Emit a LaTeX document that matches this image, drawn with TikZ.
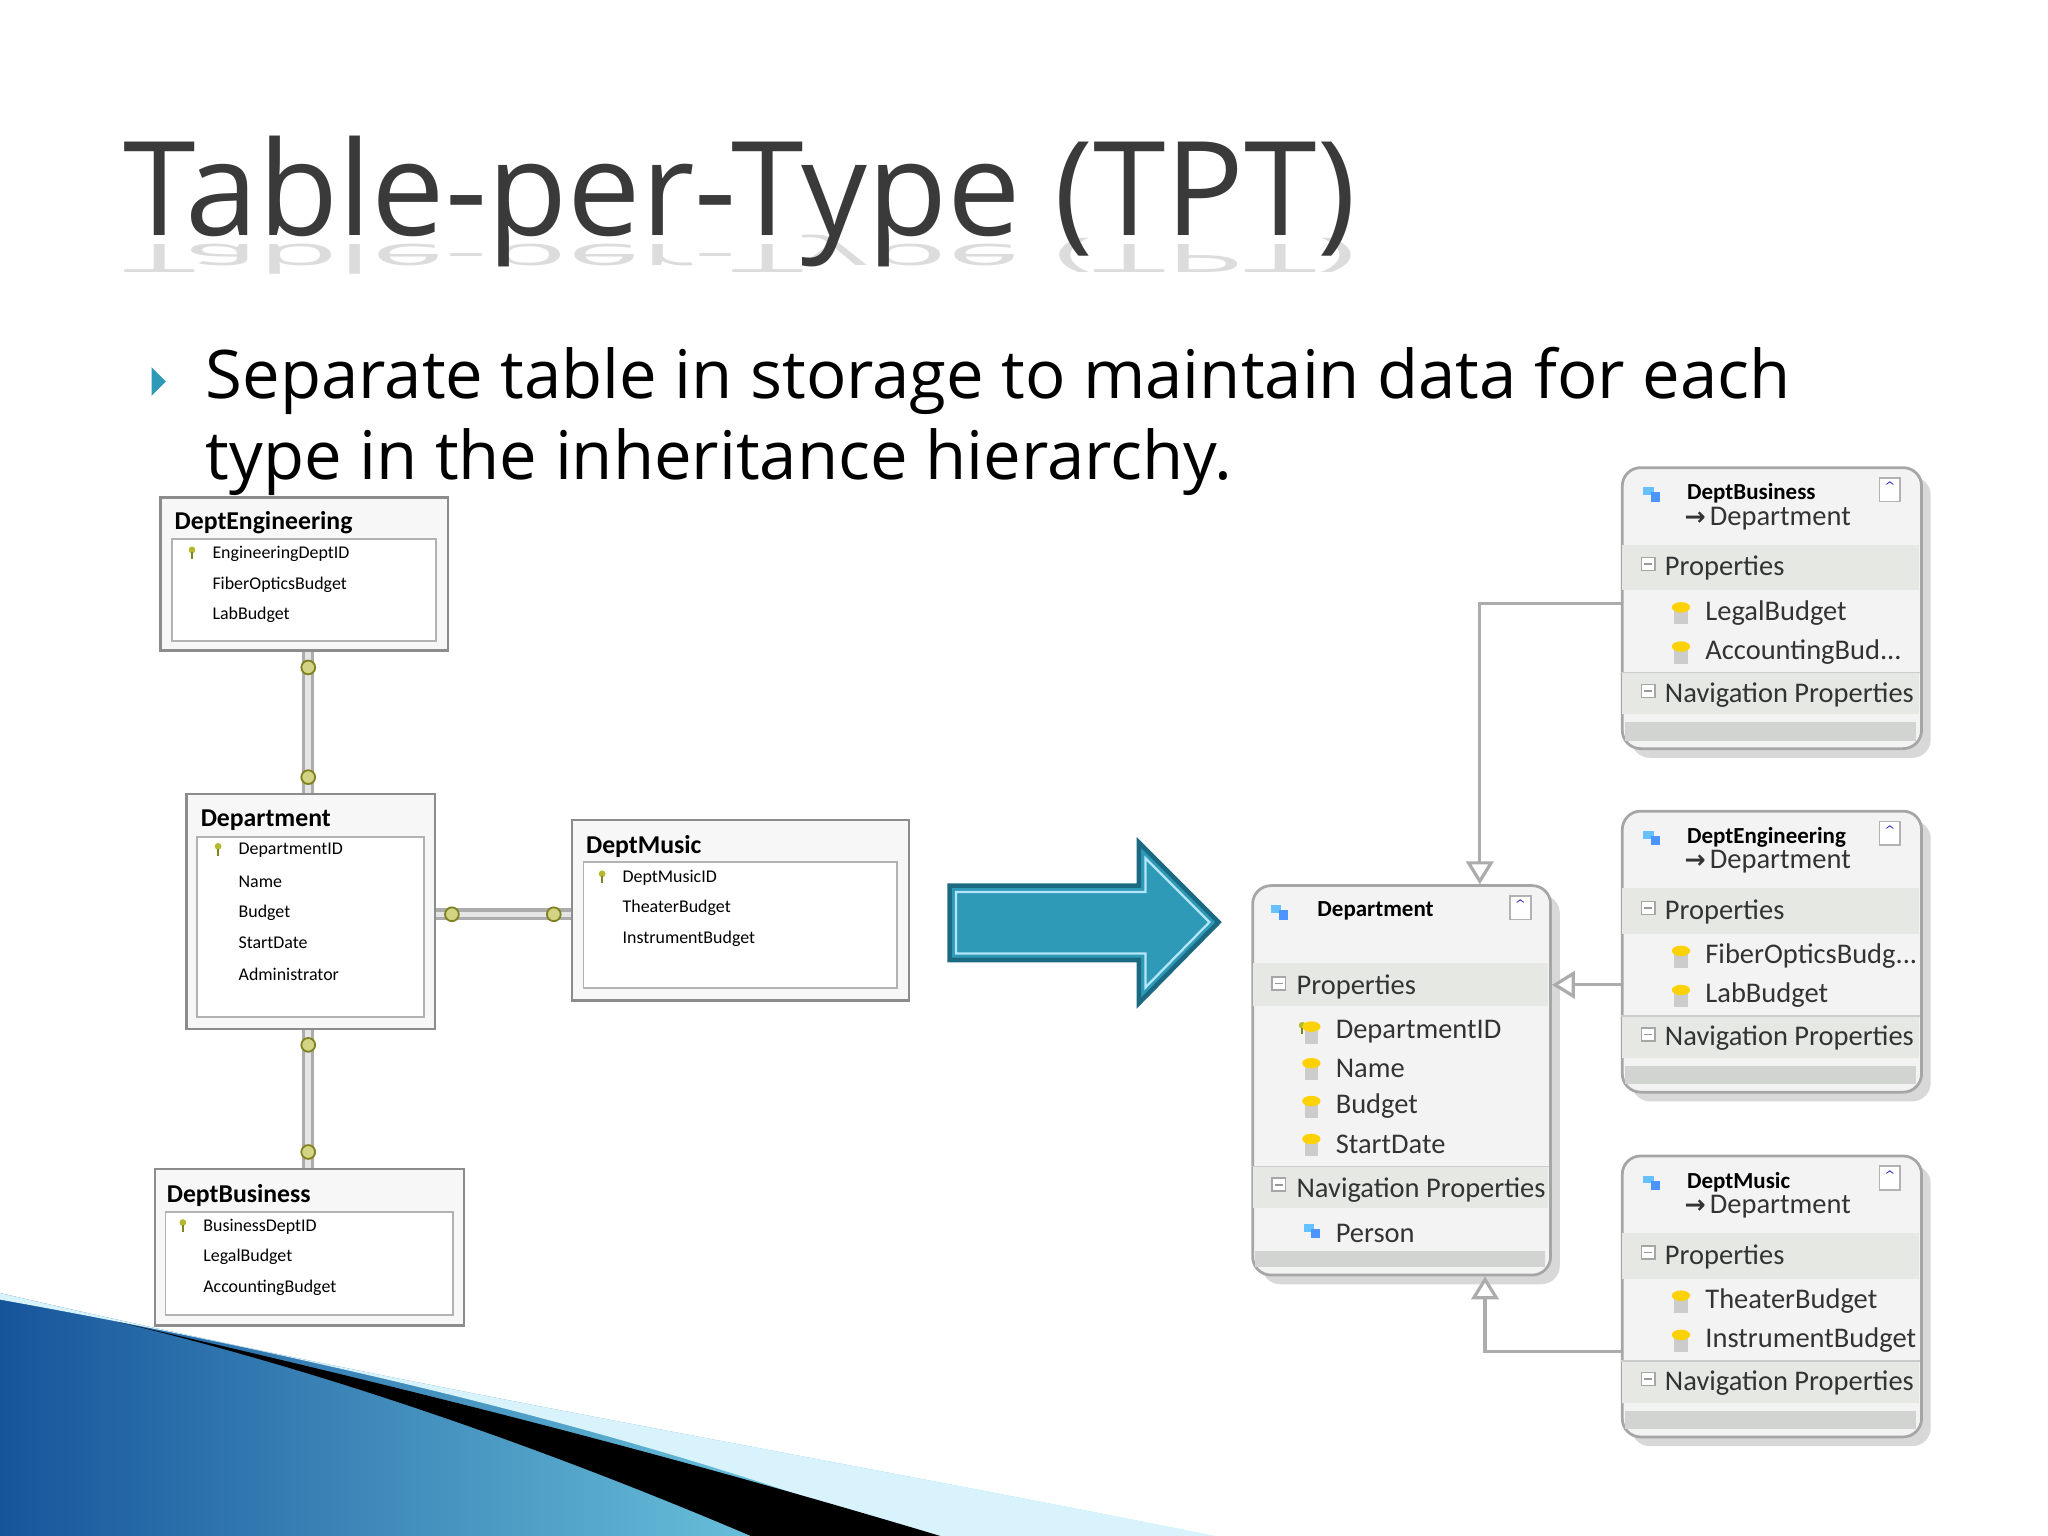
\documentclass[tikz,border=0pt]{standalone}
\usepackage{fontspec}
\setmainfont{Open Sans}
\newfontfamily\dfont{Carlito}
\usetikzlibrary{arrows.meta,shadows}
\definecolor{teal1}{HTML}{2E9AB8}
\definecolor{teal2}{HTML}{1C6A82}
\definecolor{titlegray}{HTML}{3A3A3A}
\definecolor{boxgray}{HTML}{8C8C8C}
\definecolor{bandgray}{HTML}{E6E8E4}
\definecolor{keyol}{HTML}{B5B830}
\tikzset{
 tbox/.style={draw=boxgray,line width=0.5pt,fill=gray!6,anchor=north west,inner sep=0pt},
 tpanel/.style={draw=gray!60,line width=0.4pt,fill=white,anchor=north west,inner sep=0pt},
 ttitle/.style={font=\dfont\bfseries\fontsize{5.6}{7}\selectfont,anchor=west,inner sep=0pt},
 trow/.style={font=\dfont\fontsize{3.9}{5}\selectfont,anchor=west,inner sep=0pt},
 ebox/.style={draw=gray!70,line width=0.6pt,rounded corners=4pt,fill=bandgray!50,anchor=north west,inner sep=0pt,drop shadow={shadow xshift=2pt,shadow yshift=-2pt,fill=gray!60}},
 etitle/.style={font=\dfont\bfseries\fontsize{5}{6}\selectfont,anchor=west,inner sep=0pt},
 etext/.style={font=\dfont\fontsize{6.2}{8}\selectfont,anchor=west,inner sep=0pt,text=black!80},
 conn/.style={draw=gray!65,line width=0.7pt},
 inh/.style={conn,-{Triangle[open,length=5pt,width=6pt,fill=white]}},
 keyend/.style={circle,draw=keyol!70!black,fill=keyol!60,minimum size=3pt,inner sep=0pt,line width=0.4pt},
}
\newcommand{\keyicon}[2]{\fill[keyol] (#1,#2) circle (2.6); \draw[keyol!70!black,line width=0.4pt] (#1,#2+2)--(#1,#2+7);}
\newcommand{\propicon}[2]{\fill[gray!40] (#1-7,#2-2) rectangle (#1+3,#2+9); \fill[yellow!70!orange] (#1-2,#2-4) ellipse (7 and 4);}
\newcommand{\eicon}[2]{\fill[blue!40!cyan!60] (#1-5,#2-4) rectangle (#1+3,#2+2); \fill[blue!60!cyan!70] (#1+1,#2) rectangle (#1+8,#2+7);}
\newcommand{\collapse}[2]{\draw[gray!60,fill=white,line width=0.4pt] (#1-8,#2-9) rectangle (#1+8,#2+9); \node[font=\fontsize{5}{5}\selectfont,text=blue!50!gray] at (#1,#2) {$\hat{}$};}
\newcommand{\minus}[2]{\draw[gray!70,fill=white,line width=0.3pt] (#1-5,#2-5) rectangle (#1+5,#2+5); \draw[gray!80,line width=0.4pt] (#1-3,#2)--(#1+3,#2);}
% child entity: name x y title item1 item2
\newcommand{\child}[6]{%
 \node[ebox,minimum width=2.29cm,minimum height=2.15cm] (#1) at (#2,#3) {};
 \fill[bandgray] (#2+1,#3+60) rectangle (#2+228,#3+95);
 \fill[bandgray] (#2+1,#3+158) rectangle (#2+228,#3+190);
 \fill[bandgray!70!gray!80] (#2+3,#3+196) rectangle (#2+226,#3+210);
 \draw[gray!40,line width=0.3pt] (#2,#3+158) -- (#2+229,#3+158);
 \eicon{#2+22}{#3+20}
 \collapse{#2+206}{#3+18}
 \node[etitle] at (#2+50,#3+21) {#4};
 \node[etext] at (#2+48,#3+40) {\fontspec{DejaVu Sans}\bfseries\fontsize{5.5}{6}\selectfont →\,\dfont\mdseries\fontsize{6.2}{8}\selectfont Department};
 \minus{#2+21}{#3+75}
 \node[etext] at (#2+33,#3+78) {Properties};
 \propicon{#2+48}{#3+112}
 \node[etext] at (#2+64,#3+112) {#5};
 \propicon{#2+48}{#3+142}
 \node[etext] at (#2+64,#3+142) {#6};
 \minus{#2+21}{#3+172}
 \node[etext] at (#2+33,#3+175) {Navigation Properties};
}
\begin{document}
\begin{tikzpicture}[x=0.01cm,y=-0.01cm]
\useasboundingbox (0,0) rectangle (1568,1176);
\fill[white] (0,0) rectangle (1568,1176);
% swoosh
\shade[left color=teal2!80!blue,right color=cyan!40] (0,990) .. controls (300,1060) and (600,1110) .. (930,1176) -- (0,1176) -- cycle;
\fill[cyan!15] (0,990) .. controls (300,1060) and (600,1110) .. (930,1176) -- (700,1176) .. controls (500,1100) and (250,1040) .. (0,995) -- cycle;
\fill[black] (90,1012) .. controls (300,1060) and (500,1110) .. (720,1176) -- (575,1176) .. controls (420,1110) and (250,1050) .. (90,1012) -- cycle;
% title
\node[anchor=base west,inner sep=0pt,text=titlegray!18,font=\fontsize{28.5}{34}\selectfont,yscale=-0.3] (refl) at (94,187) {Table-per-Type (TPT)};
\node[anchor=base west,inner sep=0pt,text=titlegray,font=\fontsize{28.5}{34}\selectfont] (title) at (94,180) {Table-per-Type (TPT)};
% bullet
\fill[teal1] (116,281) -- (127,292) -- (116,303) -- cycle;
\node[anchor=base west,inner sep=0pt,font=\fontsize{14.6}{17.8}\selectfont,text=black] (bul) at (157,305) {Separate table in storage to maintain data for each};
\node[anchor=base west,inner sep=0pt,font=\fontsize{14.6}{17.8}\selectfont,text=black] (bul2) at (157,367) {type in the inheritance hierarchy.};
% left tables
\node[tbox,minimum width=2.20cm,minimum height=1.17cm] (le) at (122,380) {};
\node[tpanel,minimum width=2.02cm,minimum height=0.78cm] (lep) at (131,412) {};
\node[ttitle] at (133,400) {DeptEngineering};
\keyicon{147}{421} \node[trow] at (162,424) {EngineeringDeptID};
\node[trow] at (162,448) {FiberOpticsBudget};
\node[trow] at (162,471) {LabBudget};

\node[tbox,minimum width=1.90cm,minimum height=1.80cm] (ld) at (142,607) {};
\node[tpanel,minimum width=1.74cm,minimum height=1.38cm] (ldp) at (150,640) {};
\node[ttitle] at (153,628) {Department};
\keyicon{167}{648} \node[trow] at (182,651) {DepartmentID};
\node[trow] at (182,675) {Name};
\node[trow] at (182,699) {Budget};
\node[trow] at (182,722) {StartDate};
\node[trow] at (182,746) {Administrator};

\node[tbox,minimum width=2.58cm,minimum height=1.38cm] (lm) at (437,627) {};
\node[tpanel,minimum width=2.40cm,minimum height=0.97cm] (lmp) at (446,659) {};
\node[ttitle] at (448,648) {DeptMusic};
\keyicon{461}{669} \node[trow] at (476,672) {DeptMusicID};
\node[trow] at (476,695) {TheaterBudget};
\node[trow] at (476,719) {InstrumentBudget};

\node[tbox,minimum width=2.36cm,minimum height=1.20cm] (lb) at (118,894) {};
\node[tpanel,minimum width=2.20cm,minimum height=0.79cm] (lbp) at (126,927) {};
\node[ttitle] at (127,915) {DeptBusiness};
\keyicon{140}{936} \node[trow] at (155,939) {BusinessDeptID};
\node[trow] at (155,962) {LegalBudget};
\node[trow] at (155,986) {AccountingBudget};
% left connectors
\coordinate (cx) at (236,0);
\draw[conn,double=gray!20,double distance=1.2pt] (cx |- le.south) -- (cx |- ld.north);
\draw[conn,double=gray!20,double distance=1.2pt] (cx |- ld.south) -- (cx |- lb.north);
\draw[conn,double=gray!20,double distance=1.2pt] (ld.east |- 0,700) -- (lm.west |- 0,700);
\node[keyend] at (236,511) {};
\node[keyend] at (236,595) {};
\node[keyend] at (236,800) {};
\node[keyend] at (236,882) {};
\node[keyend] at (346,700) {};
\node[keyend] at (424,700) {};
% big arrow
\draw[fill=teal1,draw=teal2,line width=1pt] (727,678) -- (872,678) -- (872,645) -- (933,706) -- (872,768) -- (872,735) -- (727,735) -- cycle;
\draw[cyan!30,line width=0.5pt] (732,683) -- (877,683) -- (877,657) -- (926,706) -- (877,756) -- (877,730) -- (732,730) -- cycle;
% right Department entity
\node[ebox,minimum width=2.28cm,minimum height=2.98cm] (rd) at (958,677) {};
\fill[bandgray] (959,737) rectangle (1185,770);
\fill[bandgray] (959,893) rectangle (1185,925);
\fill[bandgray!70!gray!80] (961,958) rectangle (1183,970);
\draw[gray!40,line width=0.3pt] (958,893) -- (1186,893);
\eicon{978}{697}
\collapse{1164}{695}
\node[etitle] at (1008,697) {Department};
\minus{979}{753}
\node[etext] at (992,756) {Properties};
\keyicon{997}{785} \propicon{1006}{790}
\node[etext] at (1022,790) {DepartmentID};
\propicon{1006}{818} \node[etext] at (1022,818) {Name};
\propicon{1006}{847} \node[etext] at (1022,847) {Budget};
\propicon{1006}{876} \node[etext] at (1022,876) {StartDate};
\minus{979}{907}
\node[etext] at (992,911) {Navigation Properties};
\eicon{1003}{941}
\node[etext] at (1022,944) {Person};
% children
\child{cb}{1241}{357}{DeptBusiness}{LegalBudget}{AccountingBud...}
\child{ce}{1241}{620}{DeptEngineering}{FiberOpticsBudg...}{LabBudget}
\child{cm}{1241}{884}{DeptMusic}{TheaterBudget}{InstrumentBudget}
% inheritance connectors
\coordinate (b1) at (1133,462);
\coordinate (m1) at (1137,1035);
\draw[inh] (cb.west |- b1) -- (b1) -- (b1 |- rd.north);
\draw[inh] (ce.west |- 0,754) -- (rd.east |- 0,754);
\draw[inh] (cm.west |- m1) -- (m1) -- (m1 |- rd.south);
\end{tikzpicture}
\end{document}
